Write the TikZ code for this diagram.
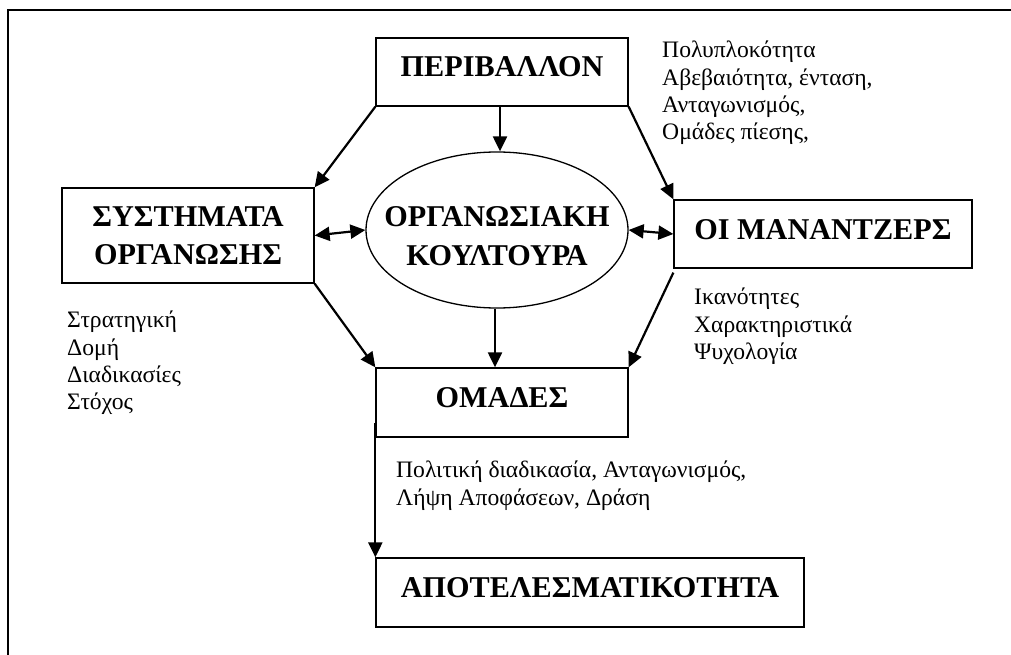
\documentclass[tikz,border=0pt]{standalone}
\usepackage{fontspec}
\setmainfont{Liberation Serif}
\usetikzlibrary{arrows.meta,shapes.geometric}
\tikzset{
  boxnode/.style={draw, line width=1.3pt, inner sep=0pt, font=\fontsize{30.2}{38}\selectfont\bfseries, align=center},
  onebox/.style={boxnode, text height=20pt, text depth=10pt},
  arr/.style={line width=2.2pt, -{Triangle[length=15pt,width=14pt]}},
  darr/.style={line width=2.2pt, {Triangle[length=15pt,width=14pt]}-{Triangle[length=15pt,width=14pt]}},
  note/.style={anchor=north west, inner sep=0pt, align=left, font=\fontsize{23.6}{27.3}\selectfont}
}
\begin{document}
\begin{tikzpicture}[x=1pt,y=-1pt]
\useasboundingbox (0,0) rectangle (1011,655);
\fill[white] (0,0) rectangle (1011,655);
% frame
\draw[line width=1.3pt] (1011,10) -- (8,10) -- (8,655);
% boxes
\node[onebox, minimum width=252pt, minimum height=68pt] (per) at (502,72) {ΠΕΡΙΒΑΛΛΟΝ};
\node[boxnode, minimum width=252pt, minimum height=95pt] (sys) at (188,235.5) {ΣΥΣΤΗΜΑΤΑ\\ΟΡΓΑΝΩΣΗΣ};
\node[draw, ellipse, line width=1.3pt, minimum width=262pt, minimum height=156pt, inner sep=0pt] (ell) at (497,230) {};
\node[inner sep=0pt, align=center, font=\fontsize{30.2}{39}\selectfont\bfseries] (elltxt) at (497,236) {ΟΡΓΑΝΩΣΙΑΚΗ\\ΚΟΥΛΤΟΥΡΑ};
\node[onebox, minimum width=298pt, minimum height=68pt] (oi) at (823,234) {ΟΙ ΜΑΝΑΝΤΖΕΡΣ};
\node[onebox, minimum width=252pt, minimum height=69pt] (om) at (502,402.5) {ΟΜΑΔΕΣ};
\node[onebox, minimum width=428pt, minimum height=69pt] (apo) at (590,592.5) {ΑΠΟΤΕΛΕΣΜΑΤΙΚΟΤΗΤΑ};
% notes
\node[note] (n1) at (662,41) {Πολυπλοκότητα\\Αβεβαιότητα, ένταση,\\Ανταγωνισμός,\\Ομάδες πίεσης,};
\node[note] (n2) at (67,311) {Στρατηγική\\Δομή\\Διαδικασίες\\Στόχος};
\node[note] (n3) at (694,288) {Ικανότητες\\Χαρακτηριστικά\\Ψυχολογία};
\node[note] (n4) at (396,461) {Πολιτική διαδικασία, Ανταγωνισμός,\\Λήψη Αποφάσεων, Δράση};
% connectors
\draw[arr] ([xshift=-2pt]per.south) -- ([xshift=-2pt]per.south |- ell.north);
\draw[arr] (per.south west) -- (sys.north east);
\draw[arr] (per.south east) -- (oi.north west);
\draw[darr] (sys.east) -- (ell.west);
\draw[darr] (ell.east) -- (oi.west);
\draw[arr] (sys.south east) -- (om.north west);
\draw[arr] ([xshift=-2pt]ell.south) -- ([xshift=-2pt]ell.south |- om.north);
\draw[arr] ([yshift=-4pt]oi.south west) -- (om.north east);
\draw[arr] ([yshift=15pt]om.south west) -- (apo.north west);
\end{tikzpicture}
\end{document}
